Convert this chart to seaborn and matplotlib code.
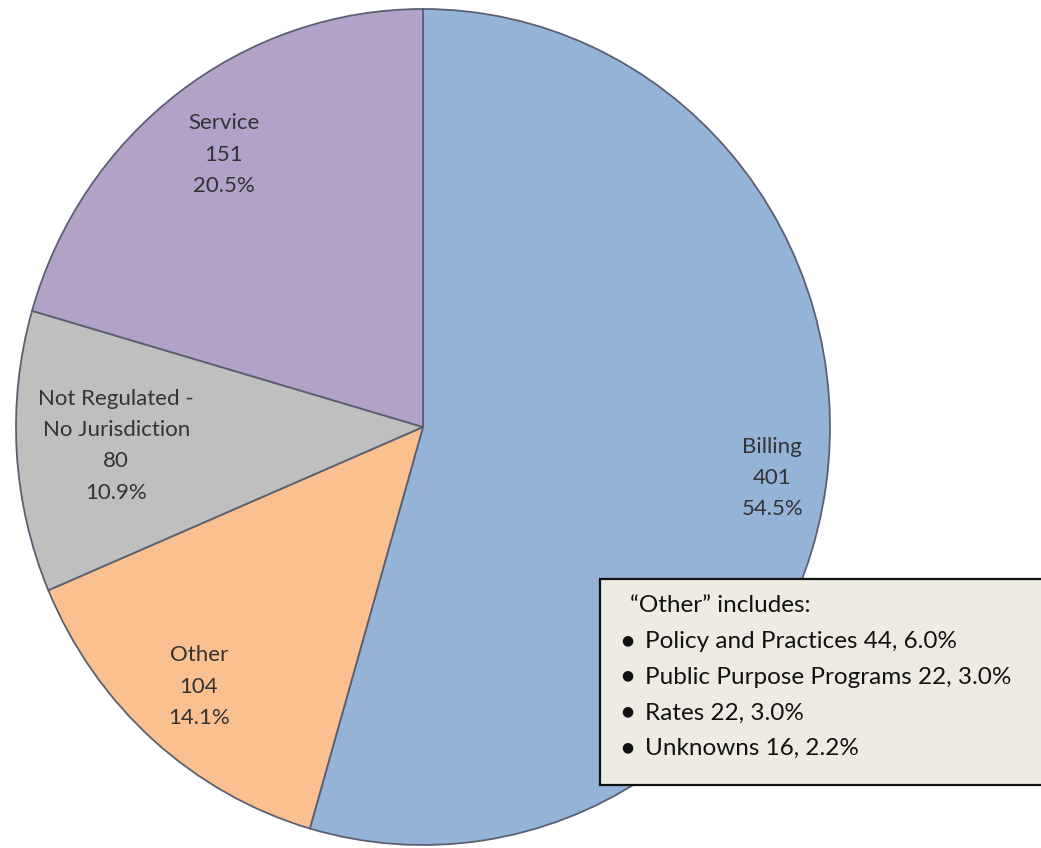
import matplotlib
matplotlib.use("Agg")
import matplotlib.pyplot as plt
import seaborn as sns
from matplotlib.patches import Rectangle

categories = ["Billing", "Other", "Not Regulated -\nNo Jurisdiction", "Service"]
counts = [401, 104, 80, 151]
percents = ["54.5%", "14.1%", "10.9%", "20.5%"]
colors = ["#95B3D7", "#FAC090", "#BFBFBF", "#B3A2C7"]
label_radius = [0.867, 0.83, 0.755, 0.815]

other_title = "\u201cOther\u201d includes:"
other_items = ["Policy and Practices 44, 6.0%",
               "Public Purpose Programs 22, 3.0%",
               "Rates 22, 3.0%",
               "Unknowns 16, 2.2%"]

sns.set_theme(style="white")
plt.rcParams["font.family"] = ["Lato", "DejaVu Sans"]

W, H = 1041, 848
fig = plt.figure(figsize=(W / 100, H / 100), dpi=100)
ax = fig.add_axes([0, 0, 1, 1])

labels = [f"{c}\n{n}\n{p}" for c, n, p in zip(categories, counts, percents)]
base_ld = 0.8
wedges, texts = ax.pie(counts, colors=colors, startangle=90, counterclock=False,
                       labels=labels, labeldistance=base_ld,
                       wedgeprops=dict(edgecolor="#5a6072", linewidth=1.3),
                       textprops=dict(fontsize=16, color="#333333", ha="center",
                                      va="center", linespacing=1.7))
for t, r in zip(texts, label_radius):
    x, y = t.get_position()
    t.set_position((x * r / base_ld, y * r / base_ld))
    t.set_horizontalalignment("center")
    t.set_multialignment("center")

# slightly elliptical pie as in the reference
cx, cy, rx, ry = 423, 427, 407, 418
ax.set_aspect("auto")
ax.set_xlim(-cx / rx, (W - cx) / rx)
ax.set_ylim(-(H - cy) / ry, cy / ry)
ax.axis("off")

# "Other" breakdown box
def fx(px):
    return px / W

def fy(py):
    return 1 - py / H

box = Rectangle((fx(600), fy(785)), fx(1060) - fx(600), fy(579) - fy(785),
                transform=fig.transFigure, facecolor="#EEECE2", edgecolor="#111111",
                linewidth=1.6, zorder=5)
fig.patches.append(box)

fig.text(fx(630), fy(612), other_title, fontsize=17.5, color="#111111",
         va="baseline", ha="left", zorder=6)
for i, item in enumerate(other_items):
    yb = 648 + i * 35.7
    fig.text(fx(627), fy(yb - 8), "\u25CF", fontsize=10, color="#111111",
             va="center", ha="center", family="DejaVu Sans", zorder=6)
    fig.text(fx(645), fy(yb), item, fontsize=17.5, color="#111111",
             va="baseline", ha="left", zorder=6)

fig.savefig("out.png", dpi=100)
